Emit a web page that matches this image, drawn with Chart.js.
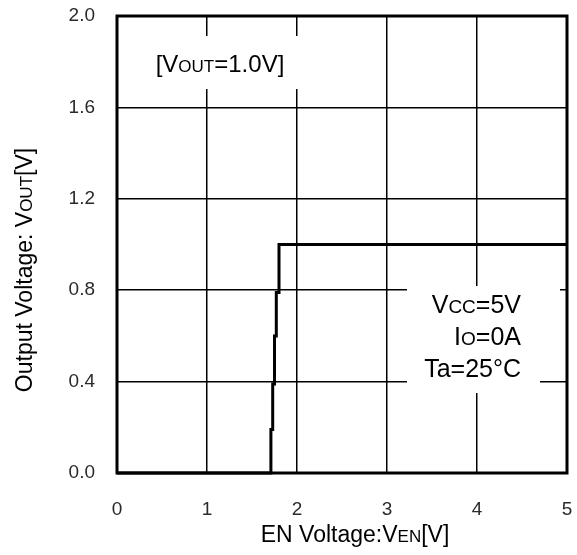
<!DOCTYPE html>
<html>
<head>
<meta charset="utf-8">
<script src="https://cdn.jsdelivr.net/npm/chart.js@4.4.1/dist/chart.umd.min.js"></script>
<style>
  html, body { margin: 0; padding: 0; background: #fff; }
  #wrap { width: 577px; height: 555px; position: relative; }
</style>
</head>
<body>
<div id="wrap"><canvas id="c" width="577" height="555"></canvas></div>
<script>
// Data
const enVoltage  = [0, 1.71, 1.71, 1.73, 1.73, 1.75, 1.75, 1.77, 1.77, 1.80, 1.80, 5.0];
const outVoltage = [0, 0,    0.19, 0.19, 0.39, 0.39, 0.60, 0.60, 0.79, 0.79, 1.00, 1.00];
const xTicks = [0, 1, 2, 3, 4, 5];
const yTicks = [0.0, 0.4, 0.8, 1.2, 1.6, 2.0];

const FONT = '"Liberation Sans", Arial, Helvetica, sans-serif';

function drawRich(ctx, parts, x, y, align) {
  let total = 0;
  parts.forEach(p => { ctx.font = p.size + 'px ' + FONT; p.w = ctx.measureText(p.t).width; total += p.w; });
  let cx = align === 'right' ? x - total : align === 'center' ? x - total / 2 : x;
  ctx.textBaseline = 'alphabetic';
  ctx.textAlign = 'left';
  parts.forEach(p => { ctx.font = p.size + 'px ' + FONT; ctx.fillText(p.t, cx, y); cx += p.w; });
}

const decorPlugin = {
  id: 'decor',
  beforeDatasetsDraw(chart) {
    const ctx = chart.ctx;
    ctx.save();
    // white boxes behind annotations
    ctx.fillStyle = '#fff';
    ctx.fillRect(150, 36, 155, 53);
    ctx.fillRect(407, 286, 133, 107);
    ctx.fillRect(540, 286, 20, 12);
    ctx.fillStyle = '#000';
    drawRich(ctx, [{t:'[V', size:24},{t:'OUT', size:17},{t:'=1.0V]', size:24}], 220, 72, 'center');
    const B = 25, S = 19;
    drawRich(ctx, [{t:'V', size:B},{t:'CC', size:S},{t:'=5V', size:B}], 521, 313, 'right');
    drawRich(ctx, [{t:'I', size:B},{t:'O', size:S},{t:'=0A', size:B}], 521, 345, 'right');
    drawRich(ctx, [{t:'Ta=25°C', size:B}], 521, 377, 'right');
    // axis titles
    const T = 23, TS = 17;
    drawRich(ctx, [{t:'EN Voltage:V', size:T},{t:'EN', size:TS},{t:'[V]', size:T}], 355, 542, 'center');
    ctx.translate(32, 270);
    ctx.rotate(-Math.PI / 2);
    drawRich(ctx, [{t:'Output Voltage: V', size:T},{t:'OUT', size:TS},{t:'[V]', size:T}], 0, 0, 'center');
    ctx.restore();
  },
  afterDatasetsDraw(chart) {
    const ctx = chart.ctx;
    const a = chart.chartArea;
    ctx.save();
    ctx.strokeStyle = '#000';
    ctx.lineWidth = 3;
    ctx.strokeRect(a.left, a.top, a.right - a.left, a.bottom - a.top);
    ctx.restore();
  }
};

new Chart(document.getElementById('c'), {
  type: 'scatter',
  data: {
    datasets: [{
      data: enVoltage.map((v, i) => ({ x: v, y: outVoltage[i] })),
      showLine: true,
      borderColor: '#000',
      borderWidth: 3,
      pointRadius: 0,
      tension: 0,
      fill: false,
      clip: false
    }]
  },
  options: {
    responsive: false,
    animation: false,
    events: [],
    layout: { padding: { left: 0, right: 10, top: 16, bottom: 0 } },
    plugins: { legend: { display: false }, tooltip: { enabled: false } },
    scales: {
      x: {
        type: 'linear', min: 0, max: 5,
        afterBuildTicks: s => { s.ticks = xTicks.map(v => ({ value: v })); },
        afterFit: s => { s.height = 82; s.paddingLeft = 0; s.paddingRight = 0; },
        border: { display: false },
        grid: { color: '#000', lineWidth: 1.5, drawTicks: false },
        ticks: { color: '#2a2a2a', font: { family: FONT, size: 19 }, padding: 25, maxRotation: 0,
                 callback: v => String(v) }
      },
      y: {
        type: 'linear', min: 0, max: 2,
        afterBuildTicks: s => { s.ticks = yTicks.map(v => ({ value: v })); },
        afterFit: s => { s.width = 117; s.paddingTop = 0; s.paddingBottom = 0; },
        border: { display: false },
        grid: { color: '#000', lineWidth: 1.5, drawTicks: false },
        ticks: { color: '#2a2a2a', font: { family: FONT, size: 19 }, padding: 22,
                 callback: v => Number(v).toFixed(1) }
      }
    }
  },
  plugins: [decorPlugin]
});
</script>
</body>
</html>
